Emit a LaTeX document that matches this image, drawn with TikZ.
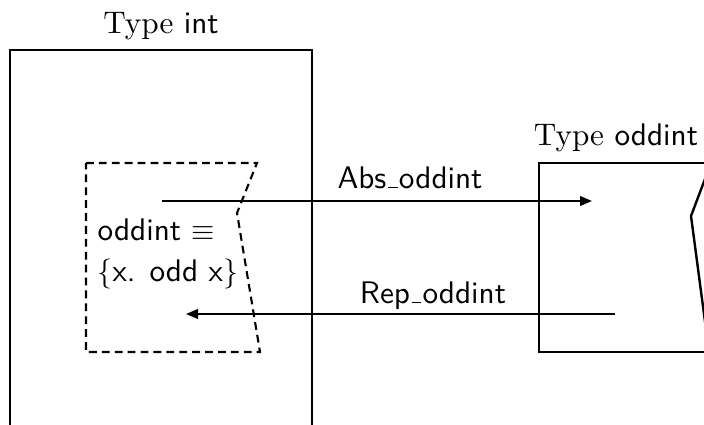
\documentclass[tikz,border=0pt]{standalone}
\usetikzlibrary{arrows.meta}
% a short underscore resting on the baseline
\newcommand\lowbar{\kern.06em\vbox{\hrule width.3em height .5pt}\kern.04em}
\tikzset{
  typebox/.style={line width=0.8pt},
  subset/.style={line width=0.7pt, dash pattern=on 2.6pt off 1.7pt},
  mapping/.style={line width=0.7pt, -{Triangle[length=4pt,width=3.2pt]}},
  lbl/.style={inner sep=0pt, font=\fontsize{10.4}{12.5}\selectfont\sffamily},
  title/.style={inner sep=0pt, font=\fontsize{10.4}{12.5}\selectfont}
}
\begin{document}
\begin{tikzpicture}[x=0.3333pt,y=-0.3333pt]
  \useasboundingbox (0,0) rectangle (704,424);
  \clip (0,0) rectangle (704,424);

  % the two types
  \draw[typebox] (10,50) rectangle (312,440);
  \draw[typebox] (539,163) rectangle (760,352);
  \node[title, anchor=base] (tint) at (161,33) {Type \textsf{int}};
  \node[title, anchor=base] (todd) at (616,145) {Type \textsf{oddint}};

  % the subset of int and its image in oddint
  \draw[subset] (86,163) -- (257,163) -- (237,213) -- (260,352) -- (86,352) -- cycle;
  \draw[typebox] (711,163) -- (691,216) -- (709,352);

  \node[lbl, anchor=base west] (def1) at (97,240) {oddint $\equiv$};
  \node[lbl, anchor=base west] (def2) at (97,281) {$\{$x. odd x$\}$};

  % abstraction and representation functions
  \coordinate (a1) at (162,201);
  \coordinate (a2) at (592,201);
  \coordinate (r1) at (615,314);
  \coordinate (r2) at (186,314);
  \draw[mapping] (a1) -- (a2);
  \draw[mapping] (r1) -- (r2);
  \node[lbl, anchor=base] (abs) at (410,188) {Abs\lowbar oddint};
  \node[lbl, anchor=base] (rep) at (433,303) {Rep\lowbar oddint};
\end{tikzpicture}
\end{document}
